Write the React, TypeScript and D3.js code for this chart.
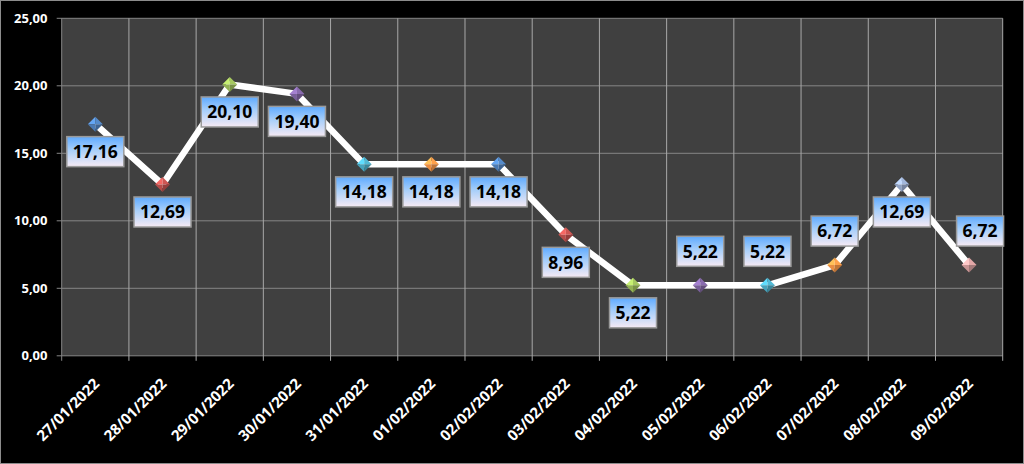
import React from "react";
import * as d3 from "d3";

const dates = ["27/01/2022","28/01/2022","29/01/2022","30/01/2022","31/01/2022","01/02/2022","02/02/2022","03/02/2022","04/02/2022","05/02/2022","06/02/2022","07/02/2022","08/02/2022","09/02/2022"];
const values = [17.16, 12.69, 20.10, 19.40, 14.18, 14.18, 14.18, 8.96, 5.22, 5.22, 5.22, 6.72, 12.69, 6.72];
const pointColors = ["#4f81bd","#c0504d","#9bbb59","#8064a2","#4bacc6","#f79646","#4f81bd","#c0504d","#9bbb59","#8064a2","#4bacc6","#f79646","#97aacd","#d39c9c"];
const labelPlacement = ["below","below","below","below","below","below","below","below","below","above","above","above","below","aboveRight"];
const yTicks = [0, 5, 10, 15, 20, 25];

const W = 1024, H = 464;
const plot = { left: 61.7, right: 1002.7, top: 18.3, bottom: 355.8 };
const FONT = "'Open Sans', 'Noto Sans', sans-serif";

const fmt = (v: number) => d3.format(".2f")(v).replace(".", ",");

function textWidth(s: string, font: string) {
  const c = document.createElement("canvas").getContext("2d");
  if (!c) return s.length * 9;
  c.font = font;
  return c.measureText(s).width;
}

export default function App() {
  const x = d3.scaleBand<string>().domain(dates).range([plot.left, plot.right]).padding(0);
  const y = d3.scaleLinear().domain([0, 25]).range([plot.bottom, plot.top]);
  const cx = (d: string) => (x(d) as number) + x.bandwidth() / 2;
  const line = d3.line<number>().x((_, i) => cx(dates[i])).y((v) => y(v));
  const boundaries = dates.map((d) => x(d) as number).concat([plot.right]);
  const labelFont = `bold 17.5px ${FONT}`;
  const r = 7.5;

  return (
    <svg width={W} height={H} style={{ position: "absolute", left: 0, top: 0, display: "block" }}>
      <defs>
        <linearGradient id="lblGrad" x1="0" y1="0" x2="0" y2="1">
          <stop offset="0%" stopColor="#5eaaff" />
          <stop offset="45%" stopColor="#a8cffa" />
          <stop offset="100%" stopColor="#f6eaf4" />
        </linearGradient>
      </defs>
      <rect x={0} y={0} width={W} height={H} fill="#000" />
      <rect x={0.5} y={0.5} width={W - 1} height={H - 1} fill="none" stroke="#8c8c8c" strokeWidth={1} />
      <rect x={plot.left} y={plot.top} width={plot.right - plot.left} height={plot.bottom - plot.top} fill="#404040" />
      {yTicks.map((t) => (
        <g key={"y" + t}>
          <line x1={plot.left - 5} x2={plot.right} y1={y(t)} y2={y(t)} stroke="#858585" strokeWidth={1} />
          <text x={47.5} y={y(t)} dy="0.35em" textAnchor="end" fill="#fff" fontFamily={FONT} fontWeight="bold" fontSize={13}>{fmt(t)}</text>
        </g>
      ))}
      {boundaries.map((b, i) => (
        <line key={"v" + i} x1={b} x2={b} y1={plot.top} y2={plot.bottom + 5} stroke={i === 0 ? "#858585" : "#a8a8a8"} strokeWidth={1} />
      ))}
      {dates.map((d) => (
        <text key={"x" + d} transform={`translate(${cx(d) + 5},${plot.bottom + 29}) rotate(-45)`} textAnchor="end" fill="#fff" fontFamily={FONT} fontWeight="bold" fontSize={15}>{d}</text>
      ))}
      <path d={line(values) || ""} fill="none" stroke="#fff" strokeWidth={6.5} strokeLinejoin="round" />
      {values.map((v, i) => {
        const px = cx(dates[i]), py = y(v);
        const c = d3.color(pointColors[i]) as d3.RGBColor;
        const tl = c.brighter(0.7).formatHex();
        const tr = c.brighter(0.2).formatHex();
        const bl = c.darker(0.15).formatHex();
        const br = c.darker(0.7).formatHex();
        return (
          <g key={"m" + i} transform={`translate(${px},${py})`}>
            <path d={`M0,0 L${-r},0 L0,${-r}Z`} fill={tl} />
            <path d={`M0,0 L0,${-r} L${r},0Z`} fill={tr} />
            <path d={`M0,0 L${-r},0 L0,${r}Z`} fill={bl} />
            <path d={`M0,0 L${r},0 L0,${r}Z`} fill={br} />
          </g>
        );
      })}
      {values.map((v, i) => {
        const px = cx(dates[i]), py = y(v);
        const s = fmt(v);
        const tw = textWidth(s, labelFont);
        const bw = tw + 12, bh = 30;
        let lx = px, ly = py + 27.5;
        if (labelPlacement[i] === "above") ly = py - 34;
        if (labelPlacement[i] === "aboveRight") { lx = px + 11; ly = py - 34; }
        return (
          <g key={"l" + i}>
            <rect x={lx - bw / 2} y={ly - bh / 2} width={bw} height={bh} fill="url(#lblGrad)" stroke="#9a9a9a" strokeWidth={1.5} />
            <text x={lx} y={ly} dy="0.36em" textAnchor="middle" fill="#000" fontFamily={FONT} fontWeight="bold" fontSize={17.5}>{s}</text>
          </g>
        );
      })}
    </svg>
  );
}
